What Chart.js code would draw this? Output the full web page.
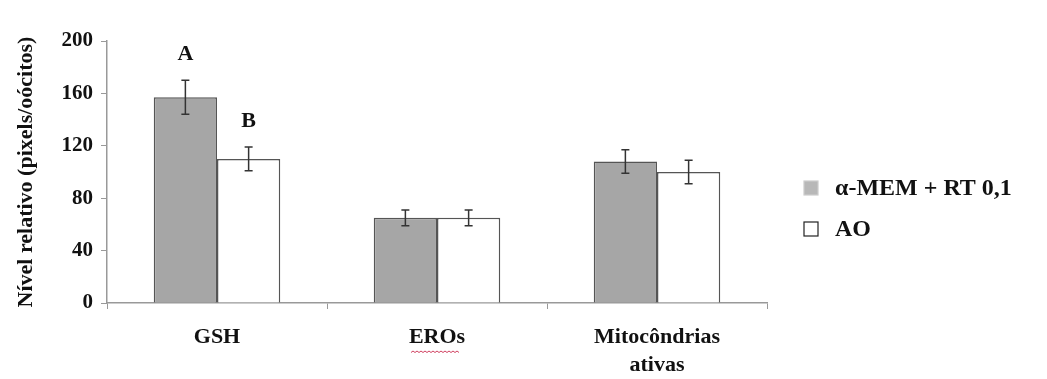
<!DOCTYPE html>
<html>
<head>
<meta charset="utf-8">
<script src="https://cdn.jsdelivr.net/npm/chart.js@4"></script>
<style>
  html, body { margin: 0; padding: 0; background: #fff; }
  #wrap { width: 1047px; height: 379px; position: relative; }
</style>
</head>
<body>
<div id="wrap"><canvas id="chart"></canvas></div>
<script>
// chart data
const categories = ['GSH', 'EROs', ['Mitocôndrias', 'ativas']];
const seriesNames = ['α-MEM + RT 0,1', 'AO'];
const memValues = [157, 65, 108];
const aoValues = [110, 65, 100];
const memErrors = [13, 6, 9];
const aoErrors = [9, 6, 9];
const memLetters = ['A', '', ''];
const aoLetters = ['B', '', ''];
const yTicks = [0, 40, 80, 120, 160, 200];

const serif = '"Liberation Serif", "Times New Roman", serif';

// error bars, letters and legend drawn after the bars
const extrasPlugin = {
  id: 'extras',
  afterDatasetsDraw(chart) {
    const ctx = chart.ctx;
    const y = chart.scales.y;
    const errs = [memErrors, aoErrors];
    const letters = [memLetters, aoLetters];
    ctx.save();
    chart.data.datasets.forEach((ds, di) => {
      const meta = chart.getDatasetMeta(di);
      meta.data.forEach((bar, i) => {
        const v = ds.data[i];
        const top = y.getPixelForValue(v + errs[di][i]);
        const bot = y.getPixelForValue(v - errs[di][i]);
        ctx.strokeStyle = '#333';
        ctx.lineWidth = 1.5;
        ctx.beginPath();
        ctx.moveTo(bar.x, top); ctx.lineTo(bar.x, bot);
        ctx.moveTo(bar.x - 4, top); ctx.lineTo(bar.x + 4, top);
        ctx.moveTo(bar.x - 4, bot); ctx.lineTo(bar.x + 4, bot);
        ctx.stroke();
        if (letters[di][i]) {
          ctx.fillStyle = '#111';
          ctx.font = 'bold 22px ' + serif;
          ctx.textAlign = 'center';
          ctx.textBaseline = 'bottom';
          ctx.fillText(letters[di][i], bar.x, top - 15);
        }
      });
    });
    ctx.restore();
  },
  afterDraw(chart) {
    const ctx = chart.ctx;
    ctx.save();
    // legend
    const fills = ['#b8b8b8', '#ffffff'];
    const strokes = ['#cccccc', '#222'];
    const ys = [188, 229];
    seriesNames.forEach((name, i) => {
      ctx.fillStyle = fills[i];
      ctx.strokeStyle = strokes[i];
      ctx.lineWidth = 1.2;
      ctx.fillRect(804, ys[i] - 7, 14, 14);
      ctx.strokeRect(804, ys[i] - 7, 14, 14);
      ctx.fillStyle = '#111';
      ctx.font = 'bold 24px ' + serif;
      ctx.textAlign = 'left';
      ctx.textBaseline = 'middle';
      ctx.fillText(name, 835, ys[i] + 1);
    });
    // spell-check underline under EROs
    const x = chart.scales.x;
    const cx = x.getPixelForValue(1);
    ctx.strokeStyle = '#d04060';
    ctx.lineWidth = 1;
    ctx.beginPath();
    for (let px = cx - 26; px <= cx + 22; px += 2) {
      const py = 351 + ((px - cx) / 2 % 2 === 0 ? 0 : 1.5);
      if (px === cx - 26) ctx.moveTo(px, py); else ctx.lineTo(px, py);
    }
    ctx.stroke();
    ctx.restore();
  }
};

new Chart(document.getElementById('chart'), {
  type: 'bar',
  data: {
    labels: categories,
    datasets: [
      {
        label: seriesNames[0],
        data: memValues,
        backgroundColor: '#a6a6a6',
        borderColor: '#555',
        borderWidth: 1.5,
        barPercentage: 1,
        categoryPercentage: 0.575
      },
      {
        label: seriesNames[1],
        data: aoValues,
        backgroundColor: '#ffffff',
        borderColor: '#555',
        borderWidth: 1.5,
        barPercentage: 1,
        categoryPercentage: 0.575
      }
    ]
  },
  options: {
    responsive: true,
    maintainAspectRatio: false,
    animation: false,
    layout: { padding: { left: 13, right: 280, top: 41, bottom: 0 } },
    plugins: {
      legend: { display: false },
      tooltip: { enabled: false }
    },
    scales: {
      x: {
        grid: { offset: true, drawOnChartArea: false, drawTicks: true, tickLength: 6, color: '#999' },
        border: { color: '#999', width: 1.5 },
        ticks: { color: '#111', font: { family: serif, size: 22, weight: 'bold', lineHeight: 1.25 }, padding: 15 },
        afterFit(scale) { scale.height = 76; }
      },
      y: {
        min: 0,
        max: 200,
        afterBuildTicks(scale) { scale.ticks = yTicks.map(v => ({ value: v })); },
        grid: { drawOnChartArea: false, drawTicks: true, tickLength: 6, color: '#999' },
        border: { color: '#999', width: 1.5 },
        ticks: { color: '#111', font: { family: serif, size: 21, weight: 'bold' }, padding: 8 },
        title: {
          display: true,
          text: 'Nível relativo (pixels/oócitos)',
          color: '#111',
          font: { family: serif, size: 22, weight: 'bold' },
          padding: { top: 0, bottom: 8 }
        },
        afterFit(scale) { scale.width = 94; }
      }
    }
  },
  plugins: [extrasPlugin]
});
</script>
</body>
</html>
